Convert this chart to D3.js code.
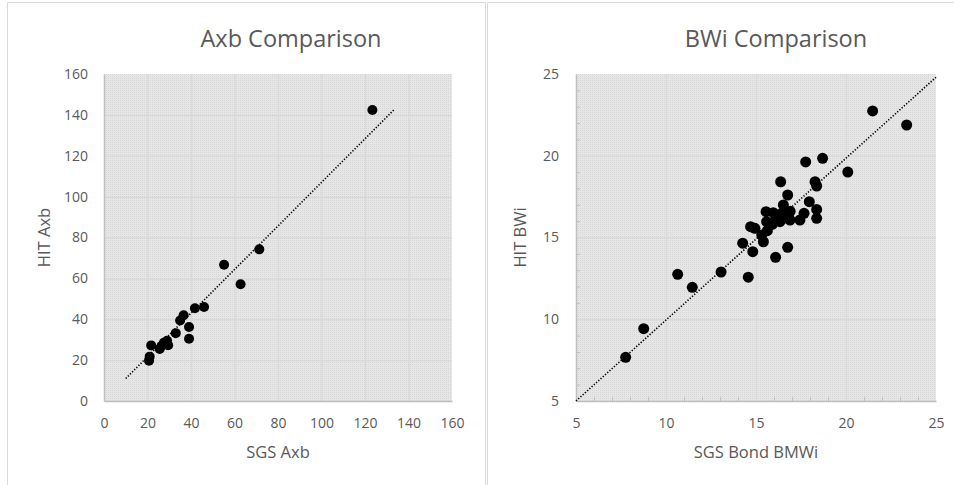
<!DOCTYPE html>
<html>
<head>
<meta charset="utf-8">
<script src="https://cdn.jsdelivr.net/npm/d3@7"></script>
<style>
  body { margin: 0; background: #fff; }
  text { font-family: "Open Sans", "Noto Sans", sans-serif; fill: #595959; }
</style>
</head>
<body>
<div id="chart"></div>
<script>
// ---- data ----
const axbSgs = [20.7, 21.0, 21.7, 25.6, 26.5, 27.5, 29.0, 29.5, 33.0, 35.0, 36.6, 39.1, 39.1, 41.8, 46.0, 55.2, 62.8, 71.4, 123.4]
const axbHit = [19.7, 21.7, 27.2, 25.4, 27.0, 28.5, 29.5, 27.3, 33.2, 39.4, 42.0, 36.2, 30.5, 45.4, 46.0, 66.7, 57.1, 74.2, 142.4]
const axbTicks = [0, 20, 40, 60, 80, 100, 120, 140, 160]
const axbTrendX = [10, 133.5]
const axbTrendY = [11, 142.7]

const bwiSgs = [7.76, 8.76, 10.65, 11.46, 13.06, 14.57, 14.26, 14.82, 16.76, 16.09, 15.41, 15.32, 15.63, 14.70, 14.94,
    15.59, 16.33, 16.89, 15.56, 15.96, 16.43, 16.79, 16.52, 17.44, 17.67, 18.37, 18.37, 17.96, 16.76, 16.37,
    18.28, 18.37, 17.76, 18.70, 20.10, 21.48, 23.37, 16.10, 16.60, 16.90, 15.90]
const bwiHit = [7.67, 9.42, 12.75, 11.95, 12.89, 12.57, 14.65, 14.13, 14.40, 13.79, 14.74, 15.15, 15.42, 15.66, 15.56,
    15.97, 15.97, 16.07, 16.58, 16.52, 16.48, 16.58, 16.99, 16.07, 16.48, 16.17, 16.72, 17.19, 17.60, 18.41,
    18.41, 18.15, 19.62, 19.84, 19.00, 22.74, 21.88, 16.30, 16.20, 16.60, 15.80]
const bwiTicks = [5, 10, 15, 20, 25]
const bwiMinor = [6, 7, 8, 9, 11, 12, 13, 14, 16, 17, 18, 19, 21, 22, 23, 24]
const bwiTrendX = [5, 25]
const bwiTrendY = [5, 24.8]

// ---- page ----
const w = 954
const h = 485

const svg = d3.select('#chart')
    .append('svg')
    .attr('width', w)
    .attr('height', h)

// dotted plot-area fill
const pat = svg.append('defs')
    .append('pattern')
    .attr('id', 'dots')
    .attr('width', 2)
    .attr('height', 2)
    .attr('patternUnits', 'userSpaceOnUse')
pat.append('rect').attr('width', 2).attr('height', 2).attr('fill', '#e6e6e6')
pat.append('rect').attr('width', 1).attr('height', 1).attr('fill', '#d7d7d7')

// chart borders
const border = '#d9d9d9'
svg.append('path')
    .attr('d', 'M7.5,485 V2.5 H485.5 V485')
    .attr('fill', 'none')
    .attr('stroke', border)
svg.append('path')
    .attr('d', 'M487.5,485 V2.5 H954')
    .attr('fill', 'none')
    .attr('stroke', border)

function drawPanel(o) {
    const g = svg.append('g')

    const x = d3.scaleLinear().domain(o.domain).range([o.left, o.right])
    const y = d3.scaleLinear().domain(o.domain).range([o.bottom, o.top])

    // plot area
    g.append('rect')
        .attr('x', o.left)
        .attr('y', o.top)
        .attr('width', o.right - o.left)
        .attr('height', o.bottom - o.top)
        .attr('fill', 'url(#dots)')

    // gridlines
    const inner = o.ticks.slice(1, -1)
    g.append('g')
        .attr('transform', `translate(0,${o.bottom})`)
        .call(d3.axisBottom(x).tickValues(inner).tickSize(-(o.bottom - o.top)).tickFormat(''))
        .call(s => s.select('.domain').remove())
        .call(s => s.selectAll('line').attr('stroke', '#d9d9d9').attr('stroke-width', 1.5))
    g.append('g')
        .attr('transform', `translate(${o.left},0)`)
        .call(d3.axisLeft(y).tickValues(inner).tickSize(-(o.right - o.left)).tickFormat(''))
        .call(s => s.select('.domain').remove())
        .call(s => s.selectAll('line').attr('stroke', '#d9d9d9').attr('stroke-width', 1.5))

    // minor tick marks inside the plot
    if (o.minor) {
        g.append('g')
            .attr('transform', `translate(0,${o.bottom})`)
            .call(d3.axisTop(x).tickValues(o.minor).tickSize(4).tickFormat(''))
            .call(s => s.select('.domain').remove())
            .call(s => s.selectAll('line').attr('stroke', '#bfbfbf'))
        g.append('g')
            .attr('transform', `translate(${o.left},0)`)
            .call(d3.axisRight(y).tickValues(o.minor).tickSize(4).tickFormat(''))
            .call(s => s.select('.domain').remove())
            .call(s => s.selectAll('line').attr('stroke', '#bfbfbf'))
    }

    // axes
    g.append('g')
        .attr('transform', `translate(0,${o.bottom})`)
        .call(d3.axisBottom(x).tickValues(o.ticks).tickSize(0).tickPadding(17))
        .call(s => s.select('.domain').attr('stroke', '#bfbfbf').attr('stroke-width', 1.5))
        .call(s => s.selectAll('text').style('font-size', '14px').attr('fill', '#595959'))
    g.append('g')
        .attr('transform', `translate(${o.left},0)`)
        .call(d3.axisLeft(y).tickValues(o.ticks).tickSize(0).tickPadding(o.left - o.labelRight))
        .call(s => s.select('.domain').attr('stroke', '#bfbfbf').attr('stroke-width', 1.5))
        .call(s => s.selectAll('text').style('font-size', '14px').attr('fill', '#595959'))

    // trendline
    const line = d3.line().x(d => x(d[0])).y(d => y(d[1]))
    g.append('path')
        .datum(d3.zip(o.trendX, o.trendY))
        .attr('d', line)
        .attr('fill', 'none')
        .attr('stroke', '#000')
        .attr('stroke-width', 1.6)
        .attr('stroke-dasharray', '1.3 1.7')

    // points
    g.selectAll('circle')
        .data(d3.zip(o.xs, o.ys))
        .enter()
        .append('circle')
        .attr('cx', d => x(d[0]))
        .attr('cy', d => y(d[1]))
        .attr('r', o.r)
        .attr('fill', '#000')

    // titles
    g.append('text')
        .attr('x', o.titleX)
        .attr('y', 47)
        .attr('text-anchor', 'middle')
        .style('font-size', '23.5px')
        .text(o.title)
    g.append('text')
        .attr('x', (o.left + o.right) / 2)
        .attr('y', 458)
        .attr('text-anchor', 'middle')
        .style('font-size', '16.5px')
        .text(o.xTitle)
    g.append('text')
        .attr('transform', `translate(${o.yTitleX},${(o.top + o.bottom) / 2}) rotate(-90)`)
        .attr('text-anchor', 'middle')
        .style('font-size', '16.5px')
        .text(o.yTitle)
}

drawPanel({
    domain: [0, 160], ticks: axbTicks, minor: null,
    left: 104, right: 452, top: 74, bottom: 401, labelRight: 88,
    xs: axbSgs, ys: axbHit, r: 5,
    trendX: axbTrendX, trendY: axbTrendY,
    title: 'Axb Comparison', titleX: 291,
    xTitle: 'SGS Axb', yTitle: 'HIT Axb', yTitleX: 50
})

drawPanel({
    domain: [5, 25], ticks: bwiTicks, minor: bwiMinor,
    left: 576, right: 936, top: 74, bottom: 401, labelRight: 559,
    xs: bwiSgs, ys: bwiHit, r: 5.5,
    trendX: bwiTrendX, trendY: bwiTrendY,
    title: 'BWi Comparison', titleX: 776,
    xTitle: 'SGS Bond BMWi', yTitle: 'HIT BWi', yTitleX: 526
})
</script>
</body>
</html>
